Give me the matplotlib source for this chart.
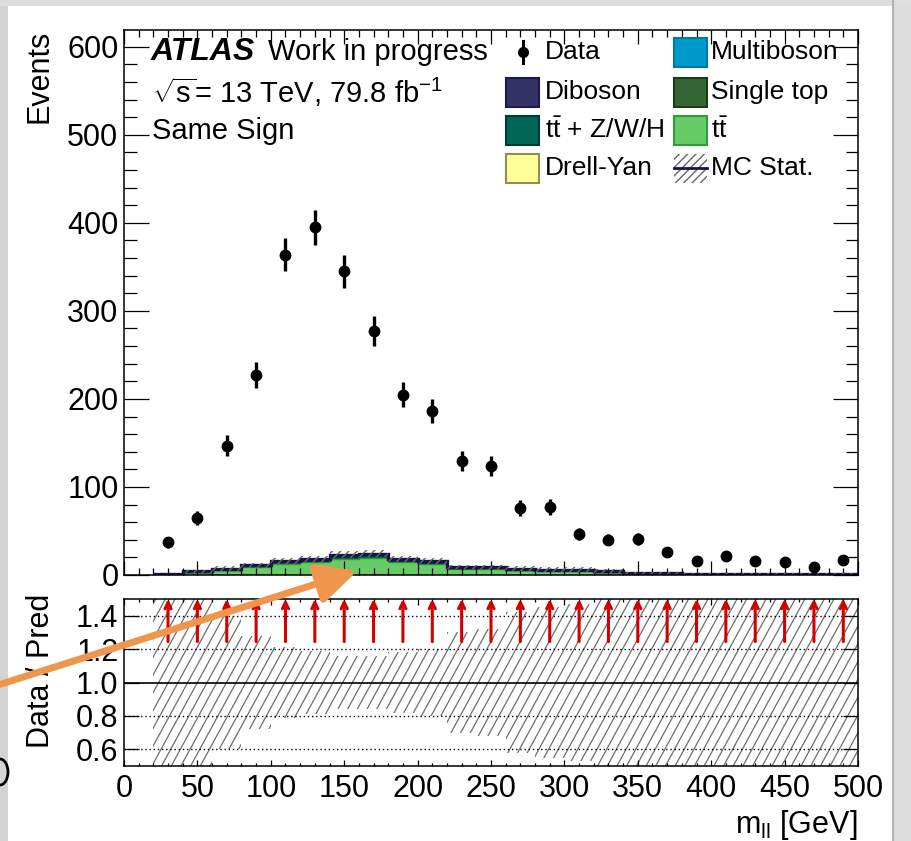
import numpy as np
import matplotlib
matplotlib.use("Agg")
import matplotlib.pyplot as plt
from matplotlib.patches import Rectangle, Arc, PathPatch, FancyArrowPatch
from matplotlib.path import Path
from matplotlib.lines import Line2D
from matplotlib.ticker import MultipleLocator, NullLocator

plt.rcParams['font.family'] = ['Liberation Sans', 'DejaVu Sans']
plt.rcParams['mathtext.fontset'] = 'custom'
plt.rcParams['mathtext.rm'] = 'Liberation Sans'
plt.rcParams['mathtext.it'] = 'Liberation Sans:italic'
plt.rcParams['mathtext.bf'] = 'Liberation Sans:bold'
plt.rcParams['hatch.linewidth'] = 1.0

# ---------------- data ----------------
bin_edges = [20, 40, 60, 80, 100, 120, 140, 160, 180, 200, 220, 240, 260,
             280, 300, 320, 340, 360, 380, 400, 420, 440, 460, 480, 500]
data = [37, 65, 147, 227, 364, 395, 345, 277, 205, 186, 130, 124,
        76, 77, 47, 40, 41, 26, 16, 22, 16, 15, 9, 17]
drell_yan = [0.2, 0.5, 0.5, 0.6, 0.5, 0.5, 0.5, 0.6, 0.4, 0.4, 0.2, 0.2,
             0.2, 0.2, 0.2, 0.1, 0.05, 0.05, 0.05, 0.05, 0.05, 0.05, 0.05, 0.05]
ttbar = [0.5, 2.8, 5.2, 8.3, 12.5, 14.0, 18.0, 18.5, 13.8, 12.2, 6.8, 6.8,
         5.2, 4.5, 4.4, 2.8, 1.0, 1.0, 0.8, 0.8, 0.5, 0.5, 0.5, 0.5]
ttv = [0.1, 0.3, 0.5, 0.8, 1.2, 1.4, 1.8, 2.0, 1.6, 1.4, 0.9, 0.9,
       0.7, 0.6, 0.6, 0.5, 0.3, 0.3, 0.3, 0.3, 0.2, 0.2, 0.2, 0.2]
single_top = [0.1, 0.2, 0.3, 0.5, 0.8, 0.9, 1.2, 1.3, 1.0, 0.9, 0.5, 0.5,
              0.4, 0.3, 0.3, 0.2, 0.1, 0.1, 0.1, 0.1, 0.1, 0.1, 0.1, 0.1]
diboson = [0.1, 0.3, 0.5, 0.8, 1.0, 1.2, 1.5, 1.6, 1.2, 1.1, 0.6, 0.6,
           0.5, 0.4, 0.5, 0.4, 0.3, 0.3, 0.2, 0.2, 0.2, 0.2, 0.2, 0.2]
multiboson = [0.02] * 24
mc_stat_rel = [0.6, 0.5, 0.4, 0.28, 0.21, 0.19, 0.16, 0.16, 0.18, 0.2, 0.3, 0.32,
               0.42, 0.45, 0.47, 0.6, 0.8, 0.8, 0.8, 0.8, 0.8, 0.8, 0.8, 0.8]
x_ticks = [0, 50, 100, 150, 200, 250, 300, 350, 400, 450, 500]
y_ticks_main = [0, 100, 200, 300, 400, 500, 600]
y_ticks_ratio = [0.6, 0.8, 1.0, 1.2, 1.4]

# ---------------- figure ----------------
W, H = 912, 841
fig = plt.figure(figsize=(W / 100, H / 100), dpi=100)
fig.patch.set_facecolor('white')


def fx(x):
    return x / W


def fy(y):
    return 1 - y / H


L, R = 124, 858
ax = fig.add_axes([fx(L), fy(575), fx(R) - fx(L), fy(30) - fy(575)])
axr = fig.add_axes([fx(L), fy(766), fx(R) - fx(L), fy(599) - fy(766)])

edges = np.array(bin_edges, dtype=float)
centers = 0.5 * (edges[:-1] + edges[1:])
comps = [
    (np.array(drell_yan), '#ffff99', '#8f8f55'),
    (np.array(ttbar), '#66cc66', '#33993a'),
    (np.array(ttv), '#006655', '#003a35'),
    (np.array(single_top), '#336633', '#1a3a1a'),
    (np.array(diboson), '#333366', '#1a1a48'),
    (np.array(multiboson), '#0099cc', '#0077aa'),
]
bottom = np.zeros(len(centers))
for vals, fc, ec in comps:
    top = bottom + vals
    ax.stairs(top, edges, baseline=bottom, fill=True, facecolor=fc,
              edgecolor='none', zorder=1)
    ax.stairs(top, edges, baseline=None, color=ec, lw=1.0, zorder=1.5)
    bottom = top
total = bottom
ax.stairs(total, edges, baseline=None, color='#15154a', lw=2.4, zorder=1.6)

rel = np.array(mc_stat_rel)
err = total * rel
ax.stairs(total + err, edges, baseline=total - err, fill=True, facecolor='none',
          edgecolor='#666666', hatch='////', lw=0, zorder=1.7)

d = np.array(data, dtype=float)
ax.errorbar(centers, d, yerr=np.sqrt(d), fmt='o', color='black', ms=7.5,
            elinewidth=2.4, capsize=0, zorder=5)

ax.set_xlim(0, 500)
ax.set_ylim(0, 619)
ax.set_xticks(x_ticks)
ax.set_yticks(y_ticks_main)
ax.xaxis.set_minor_locator(MultipleLocator(10))
ax.yaxis.set_minor_locator(MultipleLocator(20))
ax.tick_params(which='both', direction='in', top=True, right=True,
               labelbottom=False, width=0.9, labelsize=22, pad=4)
ax.tick_params(axis='x', which='major', length=10)
ax.tick_params(axis='x', which='minor', length=5)
ax.tick_params(axis='y', which='major', length=18)
ax.tick_params(axis='y', which='minor', length=9)
for s in ax.spines.values():
    s.set_linewidth(1.1)

# ratio panel
axr.set_xlim(0, 500)
axr.set_ylim(0.5, 1.5)
ratio = d / total
# MC stat band, ROOT-like steep hatching clipped to the band outline
lo = np.clip(1 - rel, 0.5, 1.5)
hi = np.clip(1 + rel, 0.5, 1.5)
verts = []
for i in range(len(centers)):
    verts += [(edges[i], hi[i]), (edges[i + 1], hi[i])]
for i in reversed(range(len(centers))):
    verts += [(edges[i + 1], lo[i]), (edges[i], lo[i])]
band = PathPatch(Path(verts + [verts[0]], closed=True), facecolor='none',
                 edgecolor='none', transform=axr.transData)
axr.add_patch(band)
run = 62.0   # GeV of horizontal run over the full 0.5..1.5 height (steep lines)
for x0 in np.arange(-80, 510, 6.6):
    ln, = axr.plot([x0, x0 + run], [0.5, 1.5], color='#6e6e6e', lw=0.9, zorder=1)
    ln.set_clip_path(band)

axr.axhline(1.0, color='black', lw=1.2, zorder=2)
for yv in [0.6, 0.8, 1.2, 1.4]:
    axr.axhline(yv, color='black', lw=1.0, ls=(0, (1, 2)), zorder=2)
for c, r in zip(centers, ratio):
    if r > 1.5:
        axr.annotate('', xy=(c, 1.5), xytext=(c, 1.245),
                     arrowprops=dict(arrowstyle='->,head_length=0.45,head_width=0.22',
                                     color='#d40000', lw=2.2, shrinkA=0, shrinkB=0),
                     zorder=4)
    else:
        axr.plot([c], [r], 'o', color='black', ms=7)
axr.set_xticks(x_ticks)
axr.set_yticks(y_ticks_ratio)
axr.set_yticklabels(['0.6', '0.8', '1.0', '1.2', '1.4'])
axr.xaxis.set_minor_locator(MultipleLocator(10))
axr.yaxis.set_minor_locator(NullLocator())
axr.tick_params(which='both', direction='in', top=True, right=True,
                width=0.9, labelsize=22, pad=4)
axr.tick_params(axis='x', which='major', length=4.5, pad=6)
axr.tick_params(axis='x', which='minor', length=2.2)
axr.tick_params(axis='y', which='major', length=11)
for s in axr.spines.values():
    s.set_linewidth(1.1)

# axis titles
fig.text(fx(40), fy(30), 'Events', rotation=90, ha='center', va='top', fontsize=22)
fig.text(fx(41), fy(671), 'Data / Pred', rotation=90, ha='center', va='center', fontsize=22)
fig.text(fx(857), fy(825), r'm$_{\mathrm{ll}}$ [GeV]', ha='right', va='center', fontsize=22)

# ATLAS label
fig.text(fx(151), fy(52), 'ATLAS', fontsize=23, fontweight='bold', fontstyle='italic',
         ha='left', va='center')
fig.text(fx(268), fy(52), 'Work in progress', fontsize=21, ha='left', va='center')
fig.text(fx(152), fy(92), r'$\sqrt{\mathrm{s}}$= 13 TeV, 79.8 fb$^{\mathrm{-1}}$',
         fontsize=21, ha='left', va='center')
fig.text(fx(152), fy(131), 'Same Sign', fontsize=21, ha='left', va='center')

# legend (manual, ROOT-like)
leg_fs = 19
rows = [52, 92, 130, 168]
bw, bh = 33, 29


def box(x, y, fc, ec):
    fig.patches.append(Rectangle((fx(x), fy(y + bh / 2)), bw / W, bh / H, facecolor=fc,
                                 edgecolor=ec, lw=1.5, transform=fig.transFigure,
                                 figure=fig))


# Data
fig.lines.append(Line2D([fx(523), fx(523)], [fy(rows[0] - 11), fy(rows[0] + 11)],
                        color='black', lw=2.2, transform=fig.transFigure, figure=fig))
fig.lines.append(Line2D([fx(523)], [fy(rows[0])], marker='o', ms=7, color='black',
                        transform=fig.transFigure, figure=fig))
fig.text(fx(545), fy(rows[0]), 'Data', fontsize=leg_fs, ha='left', va='center')
box(506, rows[1], '#333366', '#1a1a48')
fig.text(fx(545), fy(rows[1]), 'Diboson', fontsize=leg_fs, ha='left', va='center')
box(506, rows[2], '#006655', '#003a35')
fig.text(fx(545), fy(rows[2]), r'$\mathrm{t\bar{t}}$ + Z/W/H', fontsize=leg_fs,
         ha='left', va='center')
box(506, rows[3], '#ffff99', '#8f8f55')
fig.text(fx(545), fy(rows[3]), 'Drell-Yan', fontsize=leg_fs, ha='left', va='center')

box(674, rows[0], '#0099cc', '#0077aa')
fig.text(fx(711), fy(rows[0]), 'Multiboson', fontsize=leg_fs, ha='left', va='center')
box(674, rows[1], '#336633', '#1a3a1a')
fig.text(fx(711), fy(rows[1]), 'Single top', fontsize=leg_fs, ha='left', va='center')
box(674, rows[2], '#66cc66', '#33993a')
fig.text(fx(711), fy(rows[2]), r'$\mathrm{t\bar{t}}$', fontsize=leg_fs,
         ha='left', va='center')
fig.patches.append(Rectangle((fx(674), fy(rows[3] + bh / 2)), bw / W, bh / H,
                             facecolor='none', edgecolor='#666666', hatch='////', lw=0,
                             transform=fig.transFigure, figure=fig))
fig.lines.append(Line2D([fx(674), fx(707)], [fy(rows[3]), fy(rows[3])], color='#15154a',
                        lw=2.0, transform=fig.transFigure, figure=fig))
fig.text(fx(711), fy(rows[3]), 'MC Stat.', fontsize=leg_fs, ha='left', va='center')

# screenshot framing
fig.patches.append(Rectangle((0, 0), fx(8), 1, facecolor='#d4d4d4', edgecolor='none',
                             transform=fig.transFigure, figure=fig, zorder=-1))
fig.patches.append(Rectangle((fx(893), 0), fx(19), 1, facecolor='#dcdcdc', edgecolor='none',
                             transform=fig.transFigure, figure=fig, zorder=-1))
fig.lines.append(Line2D([fx(893), fx(893)], [0, 1], color='#b0b0b0', lw=1.5,
                        transform=fig.transFigure, figure=fig))
fig.patches.append(Rectangle((0, fy(6)), 1, 6 / H, facecolor='#dedede', edgecolor='none',
                             transform=fig.transFigure, figure=fig, zorder=-1))
# remnant of a neighbouring glyph at the left edge
fig.patches.append(Arc((fx(0), fy(772)), 16 / W, 26 / H, theta1=-90, theta2=90,
                       color='black', lw=2.0, transform=fig.transFigure, figure=fig))

# orange annotation arrow
fig.patches.append(FancyArrowPatch(
    (fx(-5), fy(686)), (fx(360), fy(570)), transform=fig.transFigure, figure=fig,
    arrowstyle='-|>,head_length=1.2,head_width=0.6', mutation_scale=20,
    color='#f0964c', lw=5.0, zorder=10))

fig.savefig('out.png', dpi=100)
